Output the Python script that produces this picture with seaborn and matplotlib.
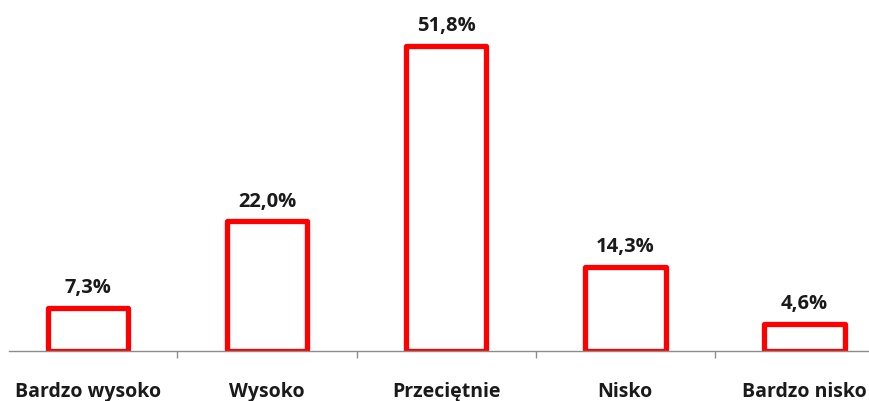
import numpy as np
import pandas as pd
import matplotlib
matplotlib.use("Agg")
import matplotlib.pyplot as plt
import seaborn as sns

# -----------------------------
# Data
# -----------------------------
categories = ["Bardzo wysoko", "Wysoko", "Przeciętnie", "Nisko", "Bardzo nisko"]
values = [7.3, 22.0, 51.8, 14.3, 4.6]
value_labels = ["7,3%", "22,0%", "51,8%", "14,3%", "4,6%"]

df = pd.DataFrame({"kategoria": categories, "procent": values})

sns.set_style("white")
plt.rcParams["font.family"] = ["Open Sans", "DejaVu Sans"]

fig = plt.figure(figsize=(8.69, 4.01), dpi=100)
ax = fig.add_axes([9 / 869, 50 / 401, 860 / 869, 351 / 401])

sns.barplot(data=df, x="kategoria", y="procent", ax=ax, width=0.45,
            color="white", edgecolor="#ff0000", linewidth=3.8)

for p in ax.patches:
    p.set_joinstyle("round")

for i, (v, lab) in enumerate(zip(values, value_labels)):
    ax.annotate(lab, (i, v), xytext=(0, 7), textcoords="offset points",
                ha="center", va="bottom", fontsize=14.5, fontweight="bold",
                color="#1a1a1a")

ax.set_xlim(-0.44, 4.36)
ax.set_ylim(0, 59.6)
ax.set_xlabel("")
ax.set_ylabel("")
ax.set_yticks([])

for s in ["top", "right", "left"]:
    ax.spines[s].set_visible(False)
ax.spines["bottom"].set_color("#8c8c8c")
ax.spines["bottom"].set_linewidth(1.0)

ax.set_xticks(range(len(categories)))
ax.set_xticklabels(categories, fontsize=14, fontweight="bold", color="#1a1a1a")
ax.set_xticks(np.arange(0.5, 4.5, 1), minor=True)
ax.tick_params(axis="x", which="major", bottom=True, length=0, pad=22)
ax.tick_params(axis="x", which="minor", bottom=True, length=5, width=1,
               color="#8c8c8c", direction="out")

fig.savefig("out.png", dpi=100, facecolor="white")
